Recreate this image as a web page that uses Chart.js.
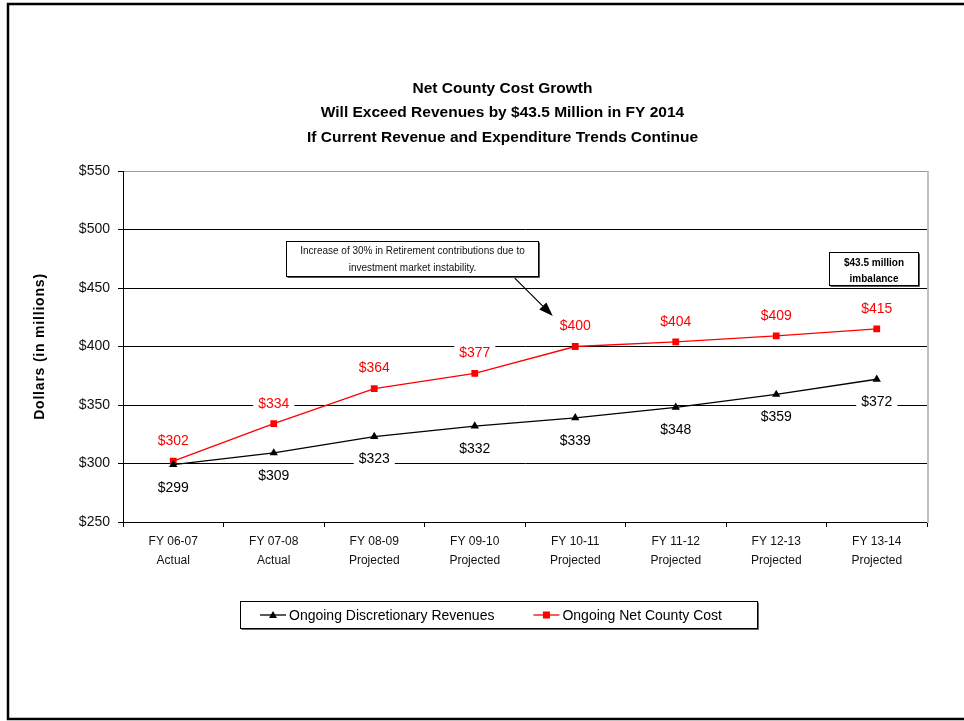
<!DOCTYPE html>
<html><head><meta charset="utf-8">
<script src="https://cdn.jsdelivr.net/npm/chart.js@4.4.1/dist/chart.umd.min.js"></script>
<style>html,body{margin:0;padding:0;background:#fff;}canvas{display:block;}</style>
</head><body>
<canvas id="c" width="964" height="721"></canvas>
<script>
// ---- data ----
const categories = [
  ["FY 06-07", "Actual"], ["FY 07-08", "Actual"], ["FY 08-09", "Projected"], ["FY 09-10", "Projected"],
  ["FY 10-11", "Projected"], ["FY 11-12", "Projected"], ["FY 12-13", "Projected"], ["FY 13-14", "Projected"]
];
const revenues = [299, 309, 323, 332, 339, 348, 359, 372];
const netCountyCost = [302, 334, 364, 377, 400, 404, 409, 415];
const seriesNames = ["Ongoing Discretionary Revenues", "Ongoing Net County Cost"];
const yMin = 250, yMax = 550, yStep = 50;
const titleLines = [
  "Net County Cost Growth",
  "Will Exceed Revenues by $43.5 Million in FY 2014",
  "If Current Revenue and Expenditure Trends Continue"
];
const yAxisTitle = "Dollars (in millions)";
const noteText = ["Increase of 30% in Retirement contributions due to", "investment market instability."];
const imbalanceText = ["$43.5 million", "imbalance"];

const FONT = "'Liberation Sans', Arial, Helvetica, sans-serif";
const RED = "#ff0000";

// annotation placement in data space (category index, value)
const noteBox = {x0: 1.122, x1: 3.629, y0: 490.2, y1: 460.3};
const noteArrow = {x0: 3.398, y0: 458.5, x1: 3.776, y1: 426.1};
const imbalanceBox = {x0: 6.525, x1: 7.411, y0: 480.8, y1: 452.6};

const frameAndExtras = {
  id: 'frameAndExtras',
  beforeDraw(chart) {
    const ctx = chart.ctx;
    ctx.save();
    ctx.fillStyle = '#fff';
    ctx.fillRect(0, 0, chart.width, chart.height);
    ctx.strokeStyle = '#000';
    ctx.lineWidth = 2.5;
    ctx.strokeRect(8, 4, chart.width + 20, 715);
    ctx.restore();
  },
  afterDraw(chart) {
    const ctx = chart.ctx;
    const a = chart.chartArea;
    const xs = chart.scales.x, ys = chart.scales.y;
    ctx.save();
    // title
    ctx.fillStyle = '#000';
    ctx.font = "bold 15.5px " + FONT;
    ctx.textAlign = 'center';
    ctx.textBaseline = 'middle';
    titleLines.forEach((t, i) => ctx.fillText(t, 502.5, 88.5 + i * 24.5));

    // y axis title (letter spaced)
    ctx.save();
    ctx.translate(40, (a.top + a.bottom) / 2);
    ctx.rotate(-Math.PI / 2);
    ctx.font = "bold 14px " + FONT;
    if ('letterSpacing' in ctx) ctx.letterSpacing = '0.8px';
    ctx.fillText(yAxisTitle, 0, 0);
    ctx.restore();

    // right plot border
    ctx.strokeStyle = '#c0c0c0';
    ctx.lineWidth = 2;
    ctx.beginPath(); ctx.moveTo(a.right + 1, a.top); ctx.lineTo(a.right + 1, a.bottom + 1); ctx.stroke();

    // data labels
    ctx.font = "14px " + FONT;
    ctx.textAlign = 'center';
    ctx.textBaseline = 'middle';
    chart.data.datasets.forEach((ds, di) => {
      const meta = chart.getDatasetMeta(di);
      meta.data.forEach((pt, i) => {
        const txt = '$' + ds.data[i];
        const ly = di === 0 ? pt.y + 22 : pt.y - 21;
        const w = ctx.measureText(txt).width;
        ctx.fillStyle = '#fff';
        ctx.fillRect(pt.x - w / 2 - 5, ly - 8, w + 10, 16);
        ctx.fillStyle = di === 0 ? '#000' : RED;
        ctx.fillText(txt, pt.x, ly + 1);
      });
    });

    // note box
    const bx0 = Math.round(xs.getPixelForValue(noteBox.x0)) + 0.5, bx1 = Math.round(xs.getPixelForValue(noteBox.x1)) + 0.5;
    const by0 = Math.round(ys.getPixelForValue(noteBox.y0)) + 0.5, by1 = Math.round(ys.getPixelForValue(noteBox.y1)) + 0.5;
    ctx.fillStyle = '#fff';
    ctx.fillRect(bx0, by0, bx1 - bx0, by1 - by0);
    ctx.strokeStyle = '#000'; ctx.lineWidth = 1;
    ctx.strokeRect(bx0, by0, bx1 - bx0, by1 - by0);
    ctx.strokeStyle = '#555';
    ctx.beginPath(); ctx.moveTo(bx1 + 1, by0 + 1); ctx.lineTo(bx1 + 1, by1 + 1); ctx.lineTo(bx0 + 1, by1 + 1); ctx.stroke();
    ctx.fillStyle = '#111';
    ctx.font = "10px " + FONT;
    const bcx = (bx0 + bx1) / 2, bcy = (by0 + by1) / 2;
    ctx.fillText(noteText[0], bcx, bcy - 8);
    ctx.fillText(noteText[1], bcx, bcy + 9);

    // arrow
    const ax0 = xs.getPixelForValue(noteArrow.x0), ay0 = ys.getPixelForValue(noteArrow.y0);
    const ax1 = xs.getPixelForValue(noteArrow.x1), ay1 = ys.getPixelForValue(noteArrow.y1);
    const ang = Math.atan2(ay1 - ay0, ax1 - ax0);
    const hl = 14, hw = 5;
    const bxh = ax1 - hl * Math.cos(ang), byh = ay1 - hl * Math.sin(ang);
    ctx.strokeStyle = '#000'; ctx.lineWidth = 1.2;
    ctx.beginPath(); ctx.moveTo(ax0, ay0); ctx.lineTo(bxh, byh); ctx.stroke();
    ctx.fillStyle = '#000';
    ctx.beginPath();
    ctx.moveTo(ax1, ay1);
    ctx.lineTo(bxh + hw * Math.sin(ang), byh - hw * Math.cos(ang));
    ctx.lineTo(bxh - hw * Math.sin(ang), byh + hw * Math.cos(ang));
    ctx.closePath(); ctx.fill();

    // imbalance box
    const ix0 = Math.round(xs.getPixelForValue(imbalanceBox.x0)) + 0.5, ix1 = Math.round(xs.getPixelForValue(imbalanceBox.x1)) + 0.5;
    const iy0 = Math.round(ys.getPixelForValue(imbalanceBox.y0)) + 0.5, iy1 = Math.round(ys.getPixelForValue(imbalanceBox.y1)) + 0.5;
    ctx.fillStyle = '#fff';
    ctx.fillRect(ix0, iy0, ix1 - ix0, iy1 - iy0);
    ctx.strokeStyle = '#000'; ctx.lineWidth = 1;
    ctx.strokeRect(ix0, iy0, ix1 - ix0, iy1 - iy0);
    ctx.strokeStyle = '#555';
    ctx.beginPath(); ctx.moveTo(ix1 + 1, iy0 + 1); ctx.lineTo(ix1 + 1, iy1 + 1); ctx.lineTo(ix0 + 1, iy1 + 1); ctx.stroke();
    ctx.fillStyle = '#000';
    ctx.font = "bold 10px " + FONT;
    const icx = (ix0 + ix1) / 2, icy = (iy0 + iy1) / 2;
    ctx.fillText(imbalanceText[0], icx, icy - 6);
    ctx.fillText(imbalanceText[1], icx, icy + 10);

    // legend
    const lx = 240.5, ly = 601.5, lw = 517, lh = 27;
    ctx.fillStyle = '#fff'; ctx.fillRect(lx, ly, lw, lh);
    ctx.strokeStyle = '#000'; ctx.lineWidth = 1; ctx.strokeRect(lx, ly, lw, lh);
    ctx.strokeStyle = '#666';
    ctx.beginPath(); ctx.moveTo(lx + lw + 1, ly + 1); ctx.lineTo(lx + lw + 1, ly + lh + 1); ctx.lineTo(lx + 1, ly + lh + 1); ctx.stroke();
    ctx.font = "14px " + FONT;
    ctx.textAlign = 'left';
    let cx = lx + 19.5;
    const cy = ly + lh / 2;
    chart.data.datasets.forEach((ds, di) => {
      ctx.strokeStyle = ds.borderColor; ctx.lineWidth = 1.3;
      ctx.beginPath(); ctx.moveTo(cx, cy); ctx.lineTo(cx + 26, cy); ctx.stroke();
      ctx.fillStyle = ds.backgroundColor;
      const mx = cx + 13;
      ctx.beginPath();
      if (ds.pointStyle === 'triangle') {
        ctx.moveTo(mx, cy - 4); ctx.lineTo(mx + 4, cy + 3); ctx.lineTo(mx - 4, cy + 3); ctx.closePath();
      } else {
        ctx.rect(mx - 3.5, cy - 3.5, 7, 7);
      }
      ctx.fill();
      ctx.fillStyle = '#000';
      ctx.fillText(ds.label, cx + 29, cy + 1);
      cx += 29 + ctx.measureText(ds.label).width + 39;
    });
    ctx.restore();
  }
};

new Chart(document.getElementById('c'), {
  type: 'line',
  data: {
    labels: categories,
    datasets: [
      {label: seriesNames[0], data: revenues, borderColor: '#000', backgroundColor: '#000',
       borderWidth: 1.3, pointStyle: 'triangle', pointRadius: 4.8, pointBorderWidth: 0, tension: 0},
      {label: seriesNames[1], data: netCountyCost, borderColor: RED, backgroundColor: RED,
       borderWidth: 1.3, pointStyle: 'rect', pointRadius: 4.8, pointBorderWidth: 0, tension: 0}
    ]
  },
  options: {
    responsive: false,
    animation: false,
    devicePixelRatio: 1,
    layout: {padding: {left: 0, right: 37, top: 171, bottom: 139}},
    plugins: {
      legend: {display: false},
      tooltip: {enabled: false},
      title: {display: false}
    },
    scales: {
      x: {
        offset: true,
        grid: {display: true, drawOnChartArea: false, offset: true, color: '#000', tickLength: 5, tickColor: '#000'},
        border: {display: true, color: '#000', width: 1},
        ticks: {color: '#111', font: {family: FONT, size: 12, lineHeight: 1.6}, padding: 5, maxRotation: 0, autoSkip: false},
        afterFit(s) { s.height = 60; }
      },
      y: {
        min: yMin, max: yMax,
        grid: {color: (c) => c.tick && c.tick.value === yMax ? '#9a9a9a' : '#000', lineWidth: 1, tickLength: 5, tickColor: '#000'},
        border: {display: true, color: '#000', width: 1},
        ticks: {stepSize: yStep, color: '#111', font: {family: FONT, size: 14}, padding: 8,
                callback: (v) => '$' + v},
        title: {display: false},
        afterFit(s) { s.width = 123; }
      }
    }
  },
  plugins: [frameAndExtras]
});
</script>
</body></html>
